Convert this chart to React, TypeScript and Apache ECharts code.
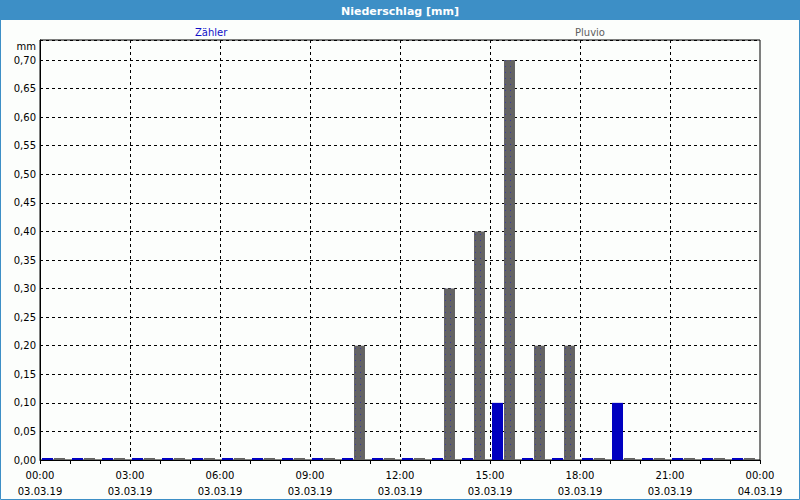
import React, { useEffect, useRef } from "react";
import * as echarts from "echarts";

const hours = ["00","01","02","03","04","05","06","07","08","09","10","11","12","13","14","15","16","17","18","19","20","21","22","23"];
const zaehler = [0,0,0,0,0,0,0,0,0,0,0,0,0,0,0,0.1,0,0,0,0.1,0,0,0,0];
const pluvio = [0,0,0,0,0,0,0,0,0,0,0.2,0,0,0.3,0.4,0.7,0.2,0.2,0,0,0,0,0,0];
const xTickHours = [0,3,6,9,12,15,18,21,24];
const yTicks = [0,0.05,0.1,0.15,0.2,0.25,0.3,0.35,0.4,0.45,0.5,0.55,0.6,0.65,0.7];

const FONT = "DejaVu Sans, Verdana, sans-serif";
const BG = "#fcfefc";
const YMAX = 0.735;

export default function App() {
  const ref = useRef<HTMLDivElement>(null);
  useEffect(() => {
    document.body.style.margin = "0";
    const chart = echarts.init(ref.current!, null, { renderer: "svg" });
    const option: any = {
      animation: false,
      backgroundColor: BG,
      textStyle: { fontFamily: FONT },
      title: {
        text: "Niederschlag [mm]",
        left: "center",
        top: 2,
        padding: [1, 5],
        z: 10,
        textStyle: { color: "#ffffff", fontWeight: "bold", fontSize: 11, lineHeight: 16, fontFamily: FONT },
      },
      graphic: [
        { type: "rect", z: 1, shape: { x: 0, y: 0, width: 800, height: 20 }, style: { fill: "#3d8fc6" } },
        { type: "rect", z: 1, shape: { x: 0.5, y: 0.5, width: 799, height: 499 }, style: { fill: "none", stroke: "#3d8fc6", lineWidth: 1 } },
        { type: "text", z: 5, x: 36, y: 46, style: { text: "mm", fill: "#000", font: "10px " + FONT, align: "right", verticalAlign: "middle" } },
      ],
      legend: [
        {
          data: [{ name: "Zähler", textStyle: { color: "#1010c8" } }],
          left: 190, top: 25, icon: "none", itemWidth: 0, itemHeight: 14, padding: 0,
          textStyle: { fontSize: 10, fontFamily: FONT },
        },
        {
          data: [{ name: "Pluvio", textStyle: { color: "#606060" } }],
          left: 570, top: 25, icon: "none", itemWidth: 0, itemHeight: 14, padding: 0,
          textStyle: { fontSize: 10, fontFamily: FONT },
        },
      ],
      grid: [
        { left: 40, top: 40, width: 720, height: 420, show: true, borderColor: "#000", borderWidth: 1, backgroundColor: BG, z: 0 },
        { left: 38.5, top: 40, width: 720, height: 420, show: false },
      ],
      xAxis: [
        {
          type: "value", gridIndex: 0, min: xTickHours[0], max: xTickHours[xTickHours.length - 1], interval: 3,
          axisLine: { lineStyle: { color: "#000" } },
          axisTick: { show: true, length: 4, lineStyle: { color: "#000" } },
          minorTick: { show: true, splitNumber: 3, length: 4, lineStyle: { color: "#000" } },
          splitLine: { show: true, showMinLine: false, showMaxLine: false, lineStyle: { color: "#000", type: [3, 3] } },
          axisLabel: {
            color: "#000", fontSize: 10, fontFamily: FONT, margin: 7, lineHeight: 16,
            formatter: (v: number) => {
              const h = v % 24;
              const d = v < 24 ? "03.03.19" : "04.03.19";
              return (h < 10 ? "0" + h : "" + h) + ":00\n" + d;
            },
          },
        },
        { type: "category", gridIndex: 1, data: hours, show: false, boundaryGap: true },
      ],
      yAxis: [
        {
          type: "value", gridIndex: 0, min: yTicks[0], max: YMAX, interval: 0.05,
          axisLine: { show: true, lineStyle: { color: "#000" } },
          axisTick: { show: false },
          splitLine: { show: true, lineStyle: { color: "#000", type: [3, 3] } },
          axisLabel: {
            color: "#000", fontSize: 10, fontFamily: FONT, margin: 4,
            formatter: (v: number) => (v > yTicks[yTicks.length - 1] + 1e-4 ? "" : v.toFixed(2).replace(".", ",")),
          },
        },
        { type: "value", gridIndex: 1, min: 0, max: YMAX, show: false },
      ],
      series: [
        {
          name: "Zähler", type: "bar", xAxisIndex: 1, yAxisIndex: 1, data: zaehler,
          barWidth: 11, barGap: "9%", barMinHeight: 2,
          itemStyle: { color: "#0000c0" }, z: 3,
        },
        {
          name: "Pluvio", type: "bar", xAxisIndex: 1, yAxisIndex: 1, data: pluvio,
          barWidth: 11, barMinHeight: 2,
          itemStyle: {
            color: "#646464",
            decal: { symbol: "rect", symbolSize: 1, dashArrayX: [1, 4], dashArrayY: [1, 5], color: "#3a3aa0", rotation: 0 },
          },
          z: 3,
        },
      ],
    };
    chart.setOption(option);
    return () => chart.dispose();
  }, []);
  return <div ref={ref} style={{ width: 800, height: 500 }} />;
}
